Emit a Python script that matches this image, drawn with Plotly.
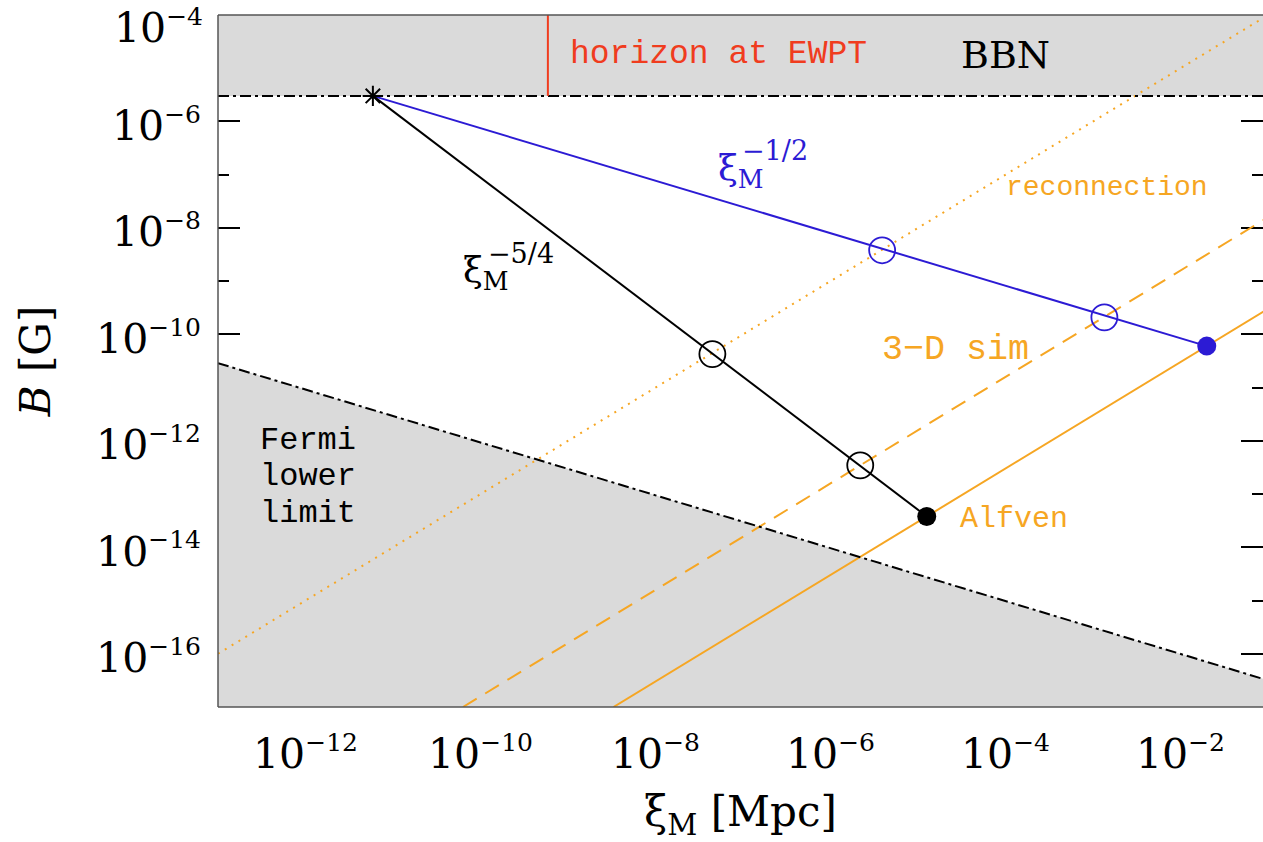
import plotly.graph_objects as go

# ---------------- data (log10 scale) ----------------
star_xi, star_B = 10**-11.23, 10**-5.52      # common starting point (asterisk)
bbn_B = 10**-5.52                             # BBN upper limit (dash-dot)
horizon_xi = 10**-9.23                        # horizon at EWPT (red line)

fermi_xi = [1e-13, 1e-1]                      # Fermi lower limit (dash-dot)
fermi_B = [10**-10.54, 10**-16.5]

recon_xi = [1e-13, 1e-1]                      # reconnection (dotted)
recon_B = [1e-16, 1e-4]
sim_xi = [10**-10.2, 1e-1]                    # 3-D sim (dashed)
sim_B = [1e-17, 10**-7.8]
alfven_xi = [10**-8.48, 1e-1]                 # Alfven (solid)
alfven_B = [1e-17, 10**-9.52]

blue_xi = [star_xi, 10**-1.70]                # xi^-1/2 track
blue_B = [star_B, 10**-10.22]
blue_open_xi = [10**-5.41, 10**-2.87]
blue_open_B = [10**-8.42, 10**-9.68]

black_xi = [star_xi, 10**-4.90]               # xi^-5/4 track
black_B = [star_B, 10**-13.42]
black_open_xi = [10**-7.35, 10**-5.66]
black_open_B = [10**-10.37, 10**-12.46]

y_tickvals = [1e-16, 1e-14, 1e-12, 1e-10, 1e-8, 1e-6]
y_exponents = ["−16", "−14", "−12", "−10", "−8", "−6"]
y_top_exponent = "−4"                         # label of the top edge (10^-4)
y_minorvals = [1e-17, 1e-15, 1e-13, 1e-11, 1e-9, 1e-7, 1e-5]
x_tickvals = [1e-12, 1e-10, 1e-8, 1e-6, 1e-4, 1e-2]
x_exponents = ["−12", "−10", "−8", "−6", "−4", "−2"]

fermi_lines = ["Fermi", "lower", "limit"]

# ---------------- style ----------------
W, H = 1263, 842
ML, MT, MB, MR = 218, 15, 135, 0
PW, PH = W - ML - MR, H - MT - MB
GRAY = "#dadada"
ORANGE = "#f6a623"
BLUE = "#2c1bd4"
RED = "#f03c1e"
SERIF = "DejaVu Serif"
MONO = "Liberation Mono"
DASHDOT = "11px,4px,3px,4px"
TICK_SIZE = 41
EXP_SIZE = 25


def power_label(e):
    return f"10<sup><span style='font-size:{EXP_SIZE}px'>{e}</span></sup>"


def px(xp, yp):
    """pixel position -> paper coordinates (for text placement only)"""
    return (xp - ML) / PW, (H - MB - yp) / PH


fig = go.Figure()

# gray excluded regions
fig.add_trace(go.Scatter(
    x=[fermi_xi[0], fermi_xi[1], fermi_xi[1], fermi_xi[0]],
    y=[fermi_B[0], fermi_B[1], 1e-18, 1e-18],
    fill="toself", fillcolor=GRAY, line=dict(width=0), mode="lines",
    hoverinfo="skip", showlegend=False))
fig.add_trace(go.Scatter(
    x=[recon_xi[0], recon_xi[1], recon_xi[1], recon_xi[0]],
    y=[bbn_B, bbn_B, 1e-3, 1e-3],
    fill="toself", fillcolor=GRAY, line=dict(width=0), mode="lines",
    hoverinfo="skip", showlegend=False))

# orange scaling lines
fig.add_trace(go.Scatter(x=recon_xi, y=recon_B, mode="lines",
                         line=dict(color=ORANGE, width=2, dash="2px,6px"), showlegend=False))
fig.add_trace(go.Scatter(x=sim_xi, y=sim_B, mode="lines",
                         line=dict(color=ORANGE, width=2, dash="16px,10px"), showlegend=False))
fig.add_trace(go.Scatter(x=alfven_xi, y=alfven_B, mode="lines",
                         line=dict(color=ORANGE, width=2), showlegend=False))

# dash-dot limits
fig.add_trace(go.Scatter(x=recon_xi, y=[bbn_B, bbn_B], mode="lines",
                         line=dict(color="black", width=2, dash=DASHDOT), showlegend=False))
fig.add_trace(go.Scatter(x=fermi_xi, y=fermi_B, mode="lines",
                         line=dict(color="black", width=2, dash=DASHDOT), showlegend=False))

# horizon at EWPT
fig.add_trace(go.Scatter(x=[horizon_xi, horizon_xi], y=[bbn_B, 1e-4], mode="lines",
                         line=dict(color=RED, width=2), showlegend=False))

# evolution tracks
fig.add_trace(go.Scatter(x=blue_xi, y=blue_B, mode="lines",
                         line=dict(color=BLUE, width=2), showlegend=False))
fig.add_trace(go.Scatter(x=black_xi, y=black_B, mode="lines",
                         line=dict(color="black", width=2), showlegend=False))
fig.add_trace(go.Scatter(x=blue_open_xi, y=blue_open_B, mode="markers",
                         marker=dict(symbol="circle-open", size=26, color=BLUE,
                                     line=dict(width=1.8, color=BLUE)), showlegend=False))
fig.add_trace(go.Scatter(x=black_open_xi, y=black_open_B, mode="markers",
                         marker=dict(symbol="circle-open", size=26, color="black",
                                     line=dict(width=1.8, color="black")), showlegend=False))
fig.add_trace(go.Scatter(x=[blue_xi[1]], y=[blue_B[1]], mode="markers",
                         marker=dict(symbol="circle", size=19, color=BLUE), showlegend=False))
fig.add_trace(go.Scatter(x=[black_xi[1]], y=[black_B[1]], mode="markers",
                         marker=dict(symbol="circle", size=19, color="black"), showlegend=False))
fig.add_trace(go.Scatter(x=[star_xi], y=[star_B], mode="markers",
                         marker=dict(symbol="asterisk-open", size=17, color="black",
                                     line=dict(width=2, color="black")), showlegend=False))

# text labels
anns = []


def label(text, xp, yp, size, color="black", family=MONO, xanchor="left", yanchor="middle"):
    x, y = px(xp, yp)
    anns.append(dict(text=text, x=x, y=y, xref="paper", yref="paper", showarrow=False,
                     xanchor=xanchor, yanchor=yanchor,
                     font=dict(family=family, size=size, color=color)))


label("horizon at EWPT", 568, 55, 33, RED)
label("BBN", 1005, 55, 38, "black", SERIF, xanchor="center")
label("reconnection", 1004, 187, 28, ORANGE)
label("3−D sim", 880, 350, 35, ORANGE)
label("Alfven", 958, 519, 30, ORANGE)
for i, t in enumerate(fermi_lines):
    label(t, 258, 440 + 36.5 * i, 32, "black")
label("ξ<sub>M</sub>", 716, 170, 36, BLUE, SERIF)
label("−1/2", 740, 150, 27, BLUE, SERIF)
label("ξ<sub>M</sub>", 461, 273, 36, "black", SERIF)
label("−5/4", 486, 253, 27, "black", SERIF)
# top-edge tick label, nudged down as in the original so it stays on the page
label(power_label(y_top_exponent), 205, 27, TICK_SIZE, "black", SERIF, xanchor="right")

# frame (left, top, bottom)
frame = [
    dict(type="line", xref="paper", yref="paper", x0=0, x1=0, y0=0, y1=1),
    dict(type="line", xref="paper", yref="paper", x0=0, x1=1, y0=1, y1=1),
    dict(type="line", xref="paper", yref="paper", x0=0, x1=1, y0=0, y1=0),
]
for s in frame:
    s["line"] = dict(color="#555555", width=1.5)
    s["layer"] = "above"

fig.update_layout(
    width=W, height=H,
    margin=dict(l=ML, r=MR, t=MT, b=MB, autoexpand=False),
    paper_bgcolor="white", plot_bgcolor="white",
    annotations=anns, shapes=frame,
    xaxis=dict(type="log", range=[-13, -13 + PW / 87.5],
               tickvals=x_tickvals, ticktext=[power_label(e) for e in x_exponents],
               ticks="inside", ticklen=22, tickwidth=2, tickcolor="black",
               mirror="ticks", showline=False, showgrid=False, zeroline=False,
               layer="below traces", ticklabelstandoff=19,
               tickfont=dict(family=SERIF, size=TICK_SIZE, color="black"),
               title=dict(text="ξ<sub>M</sub> [Mpc]", standoff=36,
                          font=dict(family=SERIF, size=42, color="black"))),
    yaxis=dict(type="log", range=[-17, -4],
               tickvals=y_tickvals, ticktext=[power_label(e) for e in y_exponents],
               ticks="inside", ticklen=22, tickwidth=2, tickcolor="black",
               minor=dict(tickvals=y_minorvals, ticks="inside", ticklen=11,
                          tickwidth=2, tickcolor="black", showgrid=False),
               mirror="ticks", showline=False, showgrid=False, zeroline=False,
               layer="below traces", ticklabelstandoff=16, ticklabelshift=4,
               tickfont=dict(family=SERIF, size=TICK_SIZE, color="black"),
               title=dict(text="<i>B</i> [G]", standoff=32,
                          font=dict(family=SERIF, size=42, color="black"))),
)

fig.write_html("out.html",
               config={"displayModeBar": False},
               post_script="document.body.style.margin='0';"
                           "document.documentElement.style.overflow='hidden';")
